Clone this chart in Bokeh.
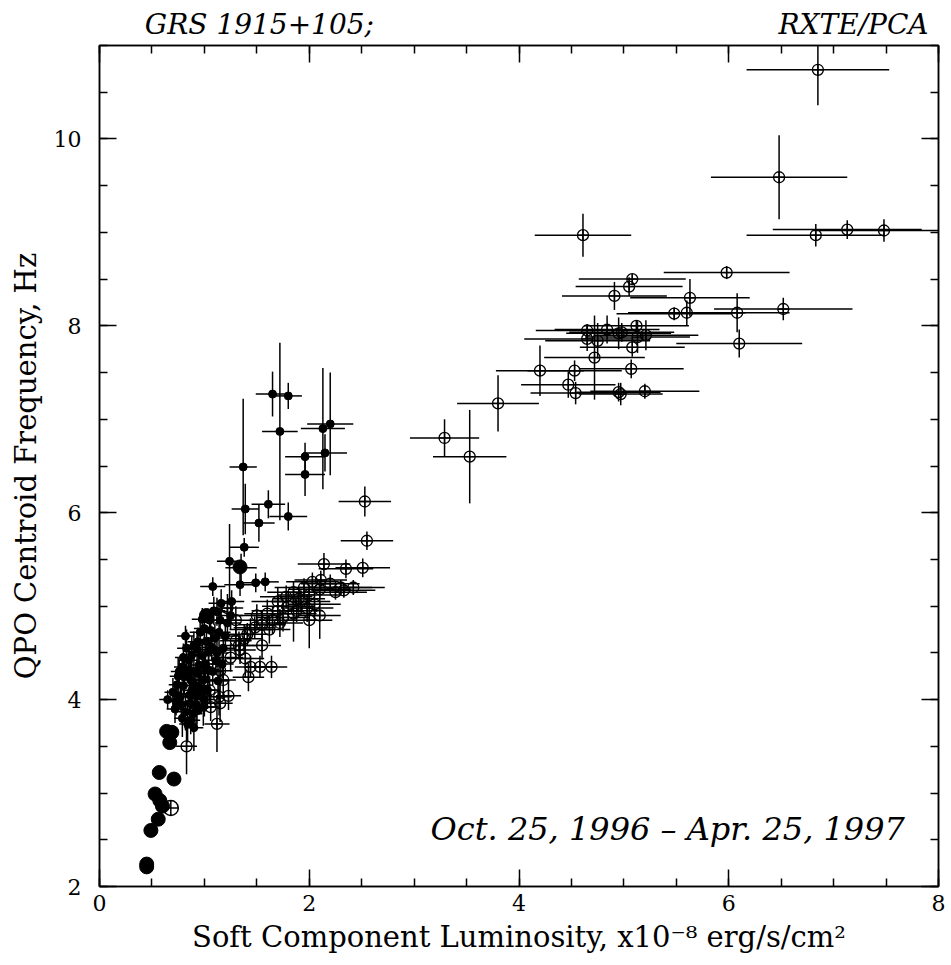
from bokeh.plotting import figure
from bokeh.models import (ColumnDataSource, Range1d, LinearAxis, SingleIntervalTicker,
                          FixedTicker, Label, CustomJSTickFormatter)
from bokeh.embed import file_html
from bokeh.resources import INLINE

# ---------------- data ----------------
# large filled circles (no error bars)
big_x = [0.64, 0.69, 0.67, 0.57, 0.71, 0.53, 0.575, 0.60, 0.56, 0.49, 0.45, 0.45, 1.02, 1.34]
big_y = [3.66, 3.65, 3.54, 3.22, 3.15, 2.99, 2.92, 2.86, 2.72, 2.60, 2.24, 2.21, 4.90, 5.42]

# large open circle
bigopen_x = [0.68]
bigopen_y = [2.84]

# small filled circles with error bars
fill_x = [1.65, 1.80, 1.72, 1.37, 2.13, 2.20, 2.15, 1.96, 1.96, 1.39, 1.61, 1.52, 1.80, 1.38,
          1.24, 1.35, 1.34, 1.08, 1.49, 1.58, 1.16, 1.26, 1.12, 1.22, 0.82, 1.06, 0.93, 1.07,
          0.85, 0.76, 0.95, 1.11, 0.74, 0.87, 0.99, 0.65, 0.77, 0.92, 0.82, 0.93, 0.84, 0.87,
          0.80, 0.90, 0.98, 1.02, 0.88, 0.96, 0.80, 0.78, 0.86, 1.00, 0.90, 1.04, 0.96, 1.10,
          0.98, 0.72, 1.15, 1.03, 0.92, 1.18, 1.00,
          0.75, 0.79, 0.83, 0.86, 0.89, 0.91, 0.94, 0.97, 1.01, 1.04, 1.08, 1.12, 1.14, 1.20,
          1.25, 0.88, 0.81, 0.70, 0.79, 0.94, 1.05, 1.17, 0.99, 0.85, 1.09, 0.73, 0.90, 1.13]
fill_y = [7.27, 7.25, 6.87, 6.49, 6.90, 6.95, 6.64, 6.60, 6.41, 6.04, 6.09, 5.89, 5.96, 5.63,
          5.48, 5.41, 5.23, 5.21, 5.25, 5.26, 5.03, 5.05, 4.94, 4.82, 4.68, 4.74, 4.54, 4.56,
          4.42, 4.30, 4.37, 4.42, 4.16, 4.21, 4.21, 4.00, 4.03, 4.04, 3.87, 3.88, 3.74, 3.78,
          4.45, 4.30, 4.47, 4.62, 4.10, 4.12, 4.15, 3.95, 3.96, 4.00, 4.58, 4.32, 4.72, 4.66,
          4.86, 3.90, 4.85, 4.10, 3.95, 4.55, 4.76,
          4.25, 4.35, 4.55, 4.05, 3.85, 4.15, 4.28, 4.05, 4.38, 4.52, 4.30, 4.50, 4.72, 4.68,
          4.90, 4.48, 4.25, 4.08, 3.80, 4.62, 4.85, 4.38, 3.92, 4.32, 4.95, 3.98, 3.70, 4.20]
fill_xerr = [0.16, 0.13, 0.17, 0.13, 0.21, 0.22, 0.21, 0.19, 0.19, 0.13, 0.16, 0.15, 0.18, 0.14,
             0.12, 0.15, 0.15, 0.12, 0.13, 0.13, 0.12, 0.12, 0.10, 0.12, 0.08, 0.10, 0.10, 0.10,
             0.09, 0.08, 0.10, 0.10, 0.08, 0.09, 0.10, 0.08, 0.08, 0.09, 0.08, 0.09, 0.08, 0.09,
             0.08, 0.09, 0.10, 0.10, 0.09, 0.10, 0.08, 0.08, 0.09, 0.10, 0.09, 0.10, 0.10, 0.11,
             0.10, 0.08, 0.12, 0.10, 0.09, 0.11, 0.10,
             0.08, 0.08, 0.09, 0.09, 0.09, 0.09, 0.10, 0.10, 0.10, 0.10, 0.10, 0.11, 0.11, 0.12,
             0.12, 0.09, 0.08, 0.08, 0.08, 0.10, 0.11, 0.11, 0.10, 0.09, 0.11, 0.08, 0.09, 0.11]
fill_yerr = [0.24, 0.14, 0.95, 0.73, 0.65, 0.55, 0.20, 0.15, 0.23, 0.27, 0.15, 0.20, 0.15, 0.10,
             0.40, 0.15, 0.12, 0.10, 0.10, 0.10, 0.15, 0.12, 0.15, 0.15, 0.11, 0.15, 0.15, 0.15,
             0.15, 0.13, 0.18, 0.15, 0.15, 0.18, 0.15, 0.10, 0.15, 0.20, 0.20, 0.15, 0.20, 0.15,
             0.15, 0.15, 0.18, 0.15, 0.20, 0.15, 0.15, 0.20, 0.15, 0.18, 0.15, 0.15, 0.12, 0.15,
             0.12, 0.15, 0.12, 0.20, 0.25, 0.15, 0.15,
             0.20, 0.15, 0.20, 0.25, 0.20, 0.20, 0.20, 0.20, 0.20, 0.15, 0.15, 0.15, 0.15, 0.15,
             0.15, 0.20, 0.20, 0.15, 0.20, 0.15, 0.12, 0.15, 0.20, 0.15, 0.15, 0.15, 0.25, 0.20]

# open circles (with cross) with error bars
open_x = [6.85, 6.48, 4.61, 6.83, 7.13, 7.48, 5.98, 5.08, 5.05, 4.91, 5.63, 6.52, 5.48, 5.60,
          6.08, 6.10, 5.12, 4.65, 4.65, 4.75, 4.84, 4.95, 4.98, 5.13, 5.21, 5.08, 4.72, 5.07,
          4.53, 4.20, 4.47, 4.54, 4.95, 4.97, 5.20, 3.80, 3.29, 3.53,
          2.53, 2.55, 2.35, 2.51, 2.14, 2.42, 2.33, 2.03, 2.11, 2.20, 2.10, 1.95, 1.85, 1.78,
          1.70, 1.90, 2.00, 2.25, 1.80, 1.70, 1.60, 1.88, 1.98, 2.05, 1.75, 1.65, 1.55, 1.62,
          1.44, 1.48, 1.41, 1.55, 1.33, 1.39, 1.44, 1.53, 1.64, 1.42, 1.15, 1.18, 1.23, 1.14,
          1.15, 1.06, 1.12, 0.83, 1.22, 1.30, 1.34, 1.25, 1.00, 0.95, 1.05, 1.30, 1.50, 1.85,
          2.10, 2.30, 1.92, 1.72, 1.38, 2.00]
open_y = [10.74, 9.59, 8.97, 8.97, 9.03, 9.02, 8.57, 8.50, 8.42, 8.32, 8.30, 8.18, 8.13, 8.14,
          8.14, 7.81, 8.00, 7.95, 7.86, 7.84, 7.96, 7.92, 7.93, 7.88, 7.90, 7.77, 7.66, 7.54,
          7.52, 7.52, 7.37, 7.28, 7.29, 7.27, 7.30, 7.17, 6.80, 6.60,
          6.12, 5.70, 5.40, 5.41, 5.45, 5.20, 5.17, 5.26, 5.28, 5.24, 5.18, 5.20, 5.15, 5.10,
          5.05, 5.08, 5.12, 5.15, 5.00, 4.95, 4.92, 4.95, 4.98, 5.02, 4.88, 4.85, 4.80, 4.75,
          4.75, 4.77, 4.70, 4.58, 4.58, 4.44, 4.35, 4.35, 4.35, 4.24, 4.31, 4.21, 4.04, 4.03,
          3.96, 3.92, 3.74, 3.50, 4.98, 4.63, 4.53, 4.45, 4.30, 4.15, 4.10, 4.85, 4.90, 4.92,
          4.90, 5.20, 5.05, 4.82, 4.65, 4.85]
open_xerr = [0.68, 0.65, 0.46, 0.66, 0.71, 0.68, 0.60, 0.51, 0.51, 0.50, 0.57, 0.66, 0.55, 0.56,
             0.50, 0.60, 0.50, 0.49, 0.60, 0.50, 0.50, 0.50, 0.50, 0.50, 0.50, 0.50, 0.48, 0.50,
             0.45, 0.42, 0.45, 0.43, 0.40, 0.40, 0.52, 0.39, 0.33, 0.35,
             0.25, 0.25, 0.26, 0.26, 0.25, 0.30, 0.30, 0.25, 0.25, 0.28, 0.30, 0.28, 0.25, 0.25,
             0.25, 0.25, 0.30, 0.30, 0.25, 0.25, 0.22, 0.25, 0.25, 0.25, 0.25, 0.22, 0.22, 0.20,
             0.20, 0.20, 0.20, 0.18, 0.18, 0.18, 0.15, 0.15, 0.15, 0.15, 0.12, 0.12, 0.12, 0.12,
             0.12, 0.10, 0.12, 0.10, 0.15, 0.15, 0.15, 0.12, 0.10, 0.10, 0.10, 0.15, 0.20, 0.22,
             0.20, 0.30, 0.28, 0.22, 0.18, 0.22]
open_yerr = [0.38, 0.45, 0.23, 0.12, 0.10, 0.12, 0.07, 0.05, 0.10, 0.15, 0.20, 0.12, 0.07, 0.13,
             0.21, 0.15, 0.05, 0.07, 0.13, 0.19, 0.15, 0.17, 0.10, 0.17, 0.16, 0.10, 0.45, 0.10,
             0.11, 0.27, 0.14, 0.12, 0.10, 0.12, 0.08, 0.30, 0.20, 0.50,
             0.16, 0.10, 0.10, 0.10, 0.12, 0.08, 0.08, 0.10, 0.10, 0.10, 0.10, 0.10, 0.12, 0.12,
             0.15, 0.12, 0.10, 0.08, 0.15, 0.15, 0.15, 0.12, 0.15, 0.12, 0.15, 0.15, 0.15, 0.15,
             0.12, 0.12, 0.12, 0.15, 0.15, 0.20, 0.12, 0.12, 0.12, 0.15, 0.15, 0.20, 0.15, 0.20,
             0.20, 0.15, 0.30, 0.30, 0.15, 0.20, 0.15, 0.15, 0.15, 0.15, 0.15, 0.15, 0.12, 0.30,
             0.25, 0.08, 0.12, 0.15, 0.15, 0.30]

title_left = "GRS 1915+105;"
title_right = "RXTE/PCA"
date_text = "Oct. 25, 1996 \u2013 Apr. 25, 1997"
x_label = "Soft Component Luminosity, x10\u207b\u2078 erg/s/cm\u00b2"
y_label = "QPO Centroid Frequency, Hz"
header_positions = [1.525, 7.19]   # x-centres (data units) of the two header texts


def err_source(xs, ys, xe, ye):
    return ColumnDataSource(dict(
        x=xs, y=ys,
        x0=[a - e for a, e in zip(xs, xe)], x1=[a + e for a, e in zip(xs, xe)],
        y0=[b - e for b, e in zip(ys, ye)], y1=[b + e for b, e in zip(ys, ye)],
    ))


FONT = "DejaVu Serif"

p = figure(width=951, height=965, x_range=Range1d(0, 8), y_range=Range1d(2, 11),
           min_border_left=99, min_border_right=13, min_border_top=45,
           min_border_bottom=79, output_backend="svg", toolbar_location=None)
p.title = None
p.grid.visible = False
p.outline_line_color = "black"
p.outline_line_width = 1.5
p.background_fill_color = "white"
p.border_fill_color = "white"

for ax in [p.xaxis[0], p.yaxis[0]]:
    ax.ticker = SingleIntervalTicker(interval=2, num_minor_ticks=4)
    ax.major_tick_in = 17
    ax.major_tick_out = 0
    ax.minor_tick_in = 8
    ax.minor_tick_out = 0
    ax.major_tick_line_width = 1.5
    ax.minor_tick_line_width = 1.5
    ax.axis_line_width = 1.5
    ax.major_label_text_font = FONT
    ax.major_label_text_font_size = "22px"
    ax.major_label_text_color = "black"
    ax.axis_label_text_font = FONT
    ax.axis_label_text_font_size = "29px"
    ax.axis_label_text_font_style = "normal"
    ax.axis_label_text_color = "black"

p.xaxis[0].axis_label = x_label
p.yaxis[0].axis_label = y_label
p.xaxis[0].major_label_standoff = 8
p.yaxis[0].major_label_standoff = 18
p.xaxis[0].axis_label_standoff = 6
p.yaxis[0].axis_label_standoff = 8

# mirrored tick axes on top and right (no labels)
for loc in ["above", "right"]:
    ax = LinearAxis(ticker=SingleIntervalTicker(interval=2, num_minor_ticks=4),
                    formatter=CustomJSTickFormatter(code="return ''"))
    ax.major_tick_in = 17
    ax.major_tick_out = 0
    ax.minor_tick_in = 8
    ax.minor_tick_out = 0
    ax.major_tick_line_width = 1.5
    ax.minor_tick_line_width = 1.5
    ax.axis_line_width = 1.5
    ax.major_label_standoff = 0
    ax.major_label_text_font_size = "1px"
    p.add_layout(ax, loc)

# header texts, carried by an invisible axis above the frame
hdr = LinearAxis(ticker=FixedTicker(ticks=header_positions, minor_ticks=[]),
                 formatter=CustomJSTickFormatter(args=dict(left=title_left, right=title_right),
                                                 code="return tick < 4 ? left : right"))
hdr.axis_line_color = None
hdr.major_tick_line_color = None
hdr.minor_tick_line_color = None
hdr.major_tick_in = 0
hdr.major_tick_out = 0
hdr.minor_tick_in = 0
hdr.minor_tick_out = 0
hdr.major_label_standoff = 5
hdr.major_label_text_font = FONT
hdr.major_label_text_font_style = "italic"
hdr.major_label_text_font_size = "28px"
hdr.major_label_text_color = "black"
p.add_layout(hdr, "above")

# open-circle error bars and markers
so = err_source(open_x, open_y, open_xerr, open_yerr)
p.segment("x0", "y", "x1", "y", source=so, line_color="black", line_width=1.5)
p.segment("x", "y0", "x", "y1", source=so, line_color="black", line_width=1.5)
p.scatter("x", "y", source=so, marker="circle_cross", size=11, fill_color=None,
          line_color="black", line_width=1.3)

# filled small circles with error bars
sf = err_source(fill_x, fill_y, fill_xerr, fill_yerr)
p.segment("x0", "y", "x1", "y", source=sf, line_color="black", line_width=1.5)
p.segment("x", "y0", "x", "y1", source=sf, line_color="black", line_width=1.5)
p.scatter("x", "y", source=sf, marker="circle", size=8, fill_color="black",
          line_color="black")

# large filled circles
p.scatter(big_x, big_y, marker="circle", size=14, fill_color="black", line_color="black")
# large open circle
p.scatter(bigopen_x, bigopen_y, marker="circle_cross", size=15, fill_color=None,
          line_color="black", line_width=1.5)

p.add_layout(Label(x=7.68, y=2.61, text=date_text, text_font=FONT,
                   text_font_style="italic", text_font_size="32px", text_color="black",
                   text_align="right", text_baseline="alphabetic"))

open("out.html", "w").write(file_html(p, INLINE))
